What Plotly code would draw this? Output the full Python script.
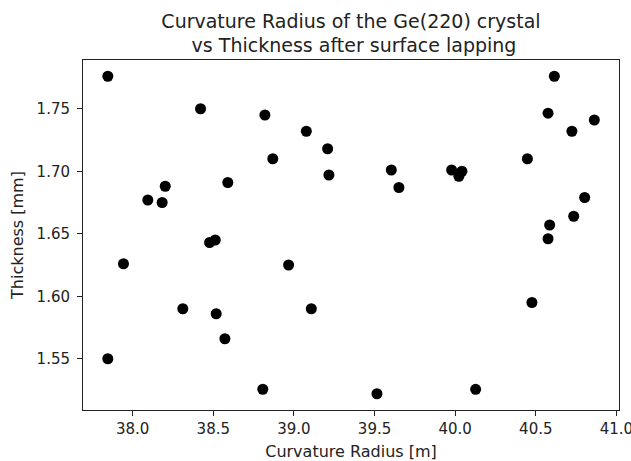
import plotly.graph_objects as go

radius_m = [37.846, 38.421, 38.820, 39.077, 38.869, 38.590, 38.202, 38.094, 38.183,
            39.209, 39.217, 39.604, 39.651, 39.978, 40.042, 40.023, 40.448, 40.615,
            40.576, 40.724, 40.863, 40.803, 40.735, 40.586,
            40.576, 39.108, 40.476, 40.127, 39.515,
            38.477, 38.512, 37.943, 38.967, 38.311, 38.518, 38.572, 37.846, 38.807]
thickness_mm = [1.776, 1.750, 1.745, 1.732, 1.710, 1.691, 1.688, 1.677, 1.675,
                1.718, 1.697, 1.701, 1.687, 1.701, 1.700, 1.696, 1.710, 1.776,
                1.7465, 1.732, 1.741, 1.679, 1.664, 1.657,
                1.646, 1.590, 1.595, 1.5255, 1.522,
                1.643, 1.645, 1.626, 1.625, 1.590, 1.586, 1.566, 1.550, 1.5256]

x_ticks = [38.0, 38.5, 39.0, 39.5, 40.0, 40.5, 41.0]
y_ticks = [1.55, 1.60, 1.65, 1.70, 1.75]

fig = go.Figure(go.Scatter(
    x=radius_m, y=thickness_mm, mode="markers",
    marker=dict(color="black", size=11, line=dict(width=0)),
))

axis_common = dict(showline=True, mirror=True, linecolor="#222", linewidth=1,
                   ticks="outside", ticklen=5, tickcolor="#222", showgrid=False,
                   zeroline=False, automargin=False, ticklabeloverflow="allow",
                   tickfont=dict(size=15, color="#222"))

fig.update_layout(
    width=631, height=461,
    margin=dict(l=83, r=12, t=60, b=51),
    paper_bgcolor="white", plot_bgcolor="white",
    font=dict(family="DejaVu Sans", color="#222"),
    showlegend=False,
    title=dict(text="Curvature Radius of the Ge(220) crystal<br> vs Thickness after surface lapping",
               x=0.5, xref="paper", xanchor="center", y=0.9403, yref="container", yanchor="top",
               automargin=False, font=dict(size=19, color="#222")),
    xaxis=dict(range=[37.692, 41.016], tickvals=x_ticks, tickformat=".1f",
               title=dict(text="Curvature Radius [m]", font=dict(size=16), standoff=9),
               **axis_common),
    yaxis=dict(range=[1.509, 1.789], tickvals=y_ticks, tickformat=".2f",
               ticklabelstandoff=4,
               title=dict(text="Thickness [mm]", font=dict(size=16), standoff=8),
               **axis_common),
)

fig.write_html("out.html", config={"displayModeBar": False},
               post_script="document.body.style.margin='0';document.body.style.padding='0';")
